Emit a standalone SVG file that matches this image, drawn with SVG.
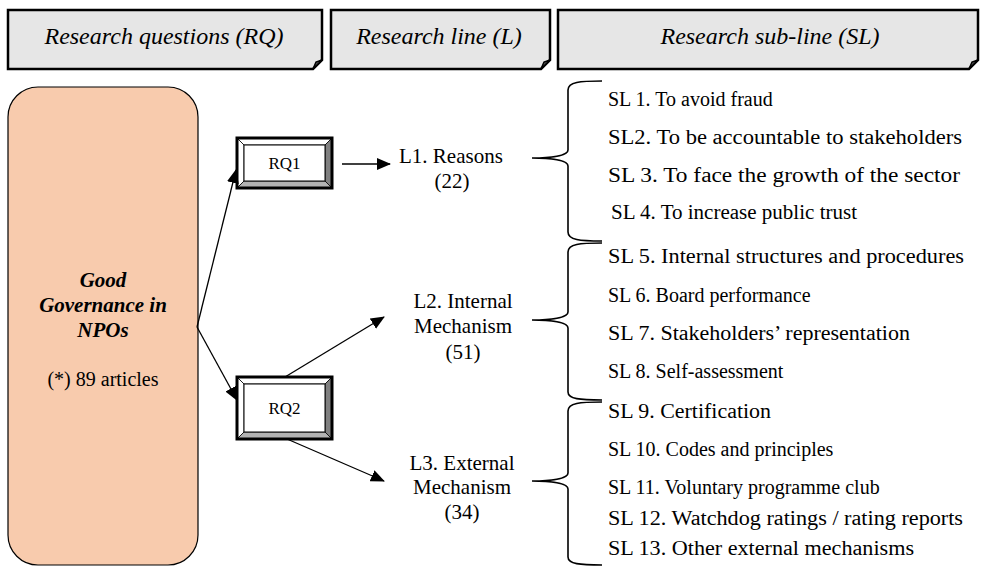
<svg xmlns="http://www.w3.org/2000/svg" width="982" height="571" viewBox="0 0 982 571">
<style>
text{font-family:'Liberation Serif','Times New Roman',Tinos,'DejaVu Serif',serif;fill:#000}
.hdr{fill:#e6e6e6;stroke:#000;stroke-width:2.5}
.fold{fill:#555;stroke:#000;stroke-width:1.5}
.ht{font-style:italic;font-size:24px}
.t{font-size:20px}
.lt{font-size:21px}
.rq{font-size:17px}
.bt{font-size:21px;font-weight:bold;font-style:italic}
.brace{fill:none;stroke:#000;stroke-width:1.6}
.conn line{stroke:#000;stroke-width:1.3}
.bo{fill:none;stroke:#000;stroke-width:3}
.bi{fill:#fff;stroke:#000;stroke-width:1}
.bl{fill:#fff;stroke:#000;stroke-width:0.8}
.bd{fill:#808080;stroke:#000;stroke-width:0.8}
.bg{fill:#b3b3b3;stroke:#000;stroke-width:0.8}
</style>
<defs>
<marker id="ah" markerUnits="userSpaceOnUse" markerWidth="14" markerHeight="12" viewBox="0 0 14 12" refX="13" refY="6" orient="auto">
<path d="M0,0 L14,6 L0,12 Z" fill="#000"/>
</marker>
</defs>

<g id="header-rq">
<path class="hdr" d="M8,10 H322 V60 L313,69 H8 Z"/>
<path class="fold" d="M322,60 L313,69 L316,62 Z"/>
<text class="ht" x="164" y="44" text-anchor="middle">Research questions (RQ)</text>
</g>
<g id="header-l">
<path class="hdr" d="M331,10 H550 V60 L541,69 H331 Z"/>
<path class="fold" d="M550,60 L541,69 L544,62 Z"/>
<text class="ht" x="439" y="44" text-anchor="middle">Research line (L)</text>
</g>
<g id="header-sl">
<path class="hdr" d="M558,10 H978 V60 L969,69 H558 Z"/>
<path class="fold" d="M978,60 L969,69 L972,62 Z"/>
<text class="ht" x="770" y="44" text-anchor="middle">Research sub-line (SL)</text>
</g>

<g id="good-governance">
<rect x="8" y="87" width="190" height="478" rx="30" ry="30" fill="#f8cbad" stroke="#000" stroke-width="1.2"/>
<text class="bt" x="103" y="287" text-anchor="middle">Good</text>
<text class="bt" x="103" y="312" text-anchor="middle">Governance in</text>
<text class="bt" x="103" y="337" text-anchor="middle">NPOs</text>
<text class="t" x="103" y="386" text-anchor="middle">(*) 89 articles</text>
</g>

<g id="rq1" transform="translate(237,138)">
<path class="bl" d="M0,0 H95 L88,7 H7 Z"/>
<path class="bl" d="M0,0 L7,7 V43 L0,50 Z"/>
<path class="bd" d="M95,0 V50 L88,43 V7 Z"/>
<path class="bg" d="M0,50 H95 L88,43 H7 Z"/>
<rect class="bi" x="7" y="7" width="81" height="36"/>
<rect class="bo" x="0" y="0" width="95" height="50"/>
<text class="rq" x="47.5" y="31" text-anchor="middle">RQ1</text>
</g>

<g id="rq2" transform="translate(237,377)">
<path class="bl" d="M0,0 H95 L88,7 H7 Z"/>
<path class="bl" d="M0,0 L7,7 V55 L0,62 Z"/>
<path class="bd" d="M95,0 V62 L88,55 V7 Z"/>
<path class="bg" d="M0,62 H95 L88,55 H7 Z"/>
<rect class="bi" x="7" y="7" width="81" height="48"/>
<rect class="bo" x="0" y="0" width="95" height="62"/>
<text class="rq" x="47.5" y="37" text-anchor="middle">RQ2</text>
</g>

<g id="l1">
<text class="lt" x="399" y="163">L1. Reasons</text>
<text class="lt" x="452" y="188" text-anchor="middle">(22)</text>
</g>
<g id="l2">
<text class="lt" x="463" y="308" text-anchor="middle">L2. Internal</text>
<text class="lt" x="463" y="333" text-anchor="middle">Mechanism</text>
<text class="lt" x="463" y="359" text-anchor="middle">(51)</text>
</g>
<g id="l3">
<text class="lt" x="462" y="470" text-anchor="middle">L3. External</text>
<text class="lt" x="462" y="494" text-anchor="middle">Mechanism</text>
<text class="lt" x="462" y="519" text-anchor="middle">(34)</text>
</g>

<g id="braces">
<path class="brace" d="M602,81 C580,81 568,82 568,90 V150 C568,156 550,158 532,158 C550,158 568,160 568,166 V232 C568,240 580,241 602,241"/>
<path class="brace" d="M602,243 C580,243 568,244 568,252 V312 C568,318 550,320 532,320 C550,320 568,322 568,328 V392 C568,399 580,400 602,400"/>
<path class="brace" d="M602,402 C580,402 568,403 568,411 V473 C568,479 550,481 532,481 C550,481 568,483 568,489 V557 C568,564 580,565 602,565"/>
</g>

<g id="sublines">
<text class="t" x="608" y="106">SL 1. To avoid fraud</text>
<text class="t" x="608" y="144" textLength="354" lengthAdjust="spacingAndGlyphs">SL2. To be accountable to stakeholders</text>
<text class="t" x="608" y="182" textLength="352" lengthAdjust="spacingAndGlyphs">SL 3. To face the growth of the sector</text>
<text class="t" x="611" y="219" textLength="246" lengthAdjust="spacingAndGlyphs">SL 4. To increase public trust</text>
<text class="t" x="608" y="263" textLength="356" lengthAdjust="spacingAndGlyphs">SL 5. Internal structures and procedures</text>
<text class="t" x="608" y="302">SL 6. Board performance</text>
<text class="t" x="608" y="340" textLength="302" lengthAdjust="spacingAndGlyphs">SL 7. Stakeholders’ representation</text>
<text class="t" x="608" y="378">SL 8. Self-assessment</text>
<text class="t" x="608" y="418" textLength="163" lengthAdjust="spacingAndGlyphs">SL 9. Certification</text>
<text class="t" x="608" y="456">SL 10. Codes and principles</text>
<text class="t" x="608" y="494">SL 11. Voluntary programme club</text>
<text class="t" x="608" y="525" textLength="355" lengthAdjust="spacingAndGlyphs">SL 12. Watchdog ratings / rating reports</text>
<text class="t" x="608" y="555" textLength="306" lengthAdjust="spacingAndGlyphs">SL 13. Other external mechanisms</text>
</g>

<g id="connectors" class="conn">
<line x1="197" y1="327" x2="236" y2="170" marker-end="url(#ah)"/>
<line x1="197" y1="327" x2="237" y2="400" marker-end="url(#ah)"/>
<line x1="342" y1="164" x2="390" y2="164" marker-end="url(#ah)"/>
<line x1="285" y1="377" x2="384" y2="317" marker-end="url(#ah)"/>
<line x1="287" y1="439" x2="384" y2="481" marker-end="url(#ah)"/>
</g>
</svg>
